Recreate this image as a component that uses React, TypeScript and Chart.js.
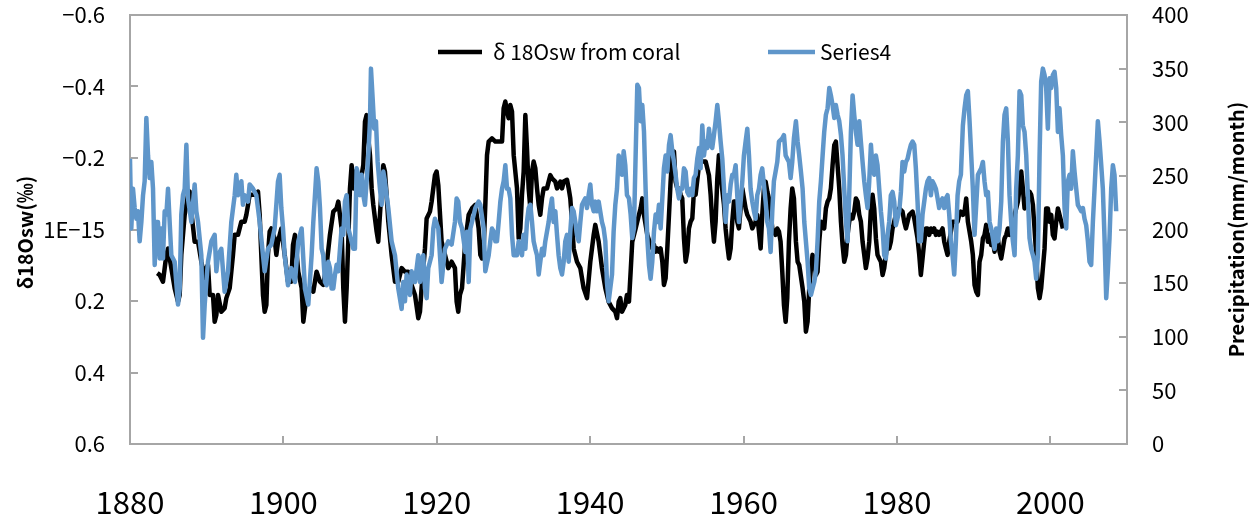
import React, { useEffect, useRef } from "react";
import { Chart, registerables } from "chart.js";

Chart.register(...registerables);

// [year, δ18Osw (‰)]
const coralSeries: [number, number][] = [
  [1883.56, 0.122], [1883.87, 0.127], [1884.30, 0.146], [1884.74, 0.071], [1884.96, 0.053], [1885.17, 0.081],
  [1885.39, 0.108], [1885.82, 0.164], [1886.26, 0.202], [1886.48, 0.183], [1886.69, 0.071], [1887.13, -0.041],
  [1887.56, -0.097], [1887.78, -0.106], [1888.00, -0.050], [1888.43, 0.034], [1888.87, 0.034], [1889.30, 0.090],
  [1889.74, 0.136], [1889.95, 0.108], [1890.17, 0.099], [1890.39, 0.183], [1890.82, 0.183], [1891.04, 0.258],
  [1891.26, 0.239], [1891.48, 0.183], [1891.91, 0.230], [1892.34, 0.220], [1892.56, 0.192], [1893.00, 0.164],
  [1893.43, 0.071], [1893.65, 0.015], [1894.08, 0.015], [1894.52, -0.022], [1894.95, -0.022], [1895.17, -0.041],
  [1895.39, -0.069], [1895.60, -0.097], [1896.25, -0.097], [1896.69, -0.106], [1896.91, -0.041], [1897.12, 0.071],
  [1897.34, 0.183], [1897.56, 0.230], [1897.78, 0.211], [1897.99, 0.071], [1898.21, 0.006], [1898.43, -0.003],
  [1898.86, 0.025], [1899.08, 0.071], [1899.30, 0.034], [1899.73, -0.003], [1900.17, 0.071], [1900.60, 0.146],
  [1901.04, 0.146], [1901.25, 0.043],
  [1901.51, 0.015], [1901.94, 0.118], [1902.38, 0.164], [1902.60, 0.258], [1903.03, 0.183], [1903.47, 0.164],
  [1903.90, 0.174], [1904.33, 0.118], [1904.77, 0.146], [1905.20, 0.155], [1905.64, 0.099], [1906.07, 0.015],
  [1906.51, -0.050], [1906.94, -0.059], [1907.16, -0.078], [1907.59, -0.003], [1907.81, 0.164], [1908.03, 0.258],
  [1908.25, 0.164], [1908.46, 0.034], [1908.68, -0.115], [1908.90, -0.180], [1909.12, -0.115], [1909.33, -0.162],
  [1909.55, -0.134], [1909.77, -0.152], [1909.98, -0.106], [1910.20, -0.152], [1910.42, -0.180], [1910.64, -0.302],
  [1910.85, -0.320], [1911.07, -0.255], [1911.29, -0.208], [1911.51, -0.115], [1911.72, -0.069], [1912.16, 0.006],
  [1912.37, 0.034], [1912.59, -0.041], [1912.81, -0.115], [1913.03, -0.180], [1913.24, -0.162], [1913.46, -0.097],
  [1913.68, -0.022], [1914.11, 0.071], [1914.55, 0.146], [1914.98, 0.146], [1915.42, 0.108], [1915.85, 0.118],
  [1916.29, 0.118], [1916.72, 0.155], [1917.16, 0.183], [1917.59, 0.248], [1917.81, 0.230], [1918.02, 0.164],
  [1918.46, 0.053], [1918.68, -0.031], [1919.11, -0.050], [1919.33, -0.078], [1919.76, -0.152], [1919.98, -0.162],
  [1920.20, -0.124], [1920.63, 0.034], [1921.07, 0.071], [1921.50, 0.108], [1921.94, 0.090], [1922.37, 0.108],
  [1922.59, 0.202], [1922.80, 0.230], [1923.02, 0.183],
  [1923.29, 0.164], [1923.72, 0.034], [1924.16, -0.041], [1924.59, -0.059], [1925.03, -0.069], [1925.46, -0.003],
  [1925.68, 0.071], [1925.90, 0.081], [1926.11, 0.053], [1926.33, -0.069], [1926.55, -0.208], [1926.77, -0.246],
  [1927.20, -0.255], [1927.64, -0.246], [1928.51, -0.246], [1928.72, -0.339], [1928.94, -0.358], [1929.16, -0.330],
  [1929.37, -0.311], [1929.59, -0.348], [1929.81, -0.330], [1930.03, -0.208], [1930.46, -0.115], [1930.68, 0.025],
  [1930.90, -0.003], [1931.11, -0.097], [1931.33, -0.162], [1931.55, -0.320], [1931.76, -0.227], [1931.98, -0.115],
  [1932.20, -0.059], [1932.42, -0.162], [1932.63, -0.190], [1932.85, -0.171], [1933.07, -0.115], [1933.29, -0.069],
  [1933.50, -0.041], [1933.72, -0.087], [1933.94, -0.115], [1934.37, -0.115], [1934.59, -0.134], [1934.81, -0.152],
  [1935.02, -0.143], [1935.46, -0.134], [1935.68, -0.115], [1935.89, -0.124], [1936.11, -0.134], [1936.33, -0.115],
  [1936.55, -0.134], [1936.98, -0.139], [1937.20, -0.115], [1937.41, -0.087], [1937.63, -0.022], [1937.85, 0.053],
  [1938.28, 0.090], [1938.72, 0.108], [1939.15, 0.164], [1939.59, 0.192], [1940.02, 0.090], [1940.46, 0.015],
  [1940.67, -0.013], [1941.11, 0.034], [1941.54, 0.108], [1941.98, 0.164], [1942.41, 0.202], [1942.85, 0.220],
  [1943.28, 0.230], [1943.50, 0.248], [1943.72, 0.202], [1943.93, 0.192], [1944.15, 0.230], [1944.58, 0.211],
  [1944.80, 0.183],
  [1945.06, 0.202], [1945.28, 0.118], [1945.49, 0.034], [1945.93, -0.003], [1946.36, -0.041], [1946.58, -0.059],
  [1946.80, -0.087], [1947.02, -0.041], [1947.45, 0.015], [1947.88, 0.043], [1948.10, 0.053], [1948.32, 0.043],
  [1948.54, 0.062], [1948.75, 0.053], [1948.97, 0.062], [1949.19, 0.053], [1949.41, 0.090], [1949.62, 0.155],
  [1949.84, 0.136], [1950.06, 0.053], [1950.28, -0.041], [1950.49, -0.134], [1950.71, -0.208], [1950.93, -0.218],
  [1951.14, -0.134], [1951.36, -0.115], [1951.58, -0.115], [1951.80, -0.097], [1952.01, -0.087], [1952.23, 0.025],
  [1952.45, 0.090], [1952.67, 0.062], [1952.88, -0.003], [1953.10, -0.022], [1953.32, -0.031], [1953.53, -0.106],
  [1953.75, -0.097], [1954.19, -0.180], [1954.62, -0.190], [1955.06, -0.190], [1955.49, -0.152], [1955.71, -0.097],
  [1955.92, -0.022], [1956.14, 0.034], [1956.36, -0.022], [1956.58, -0.143], [1956.79, -0.208], [1957.01, -0.152],
  [1957.45, -0.069], [1957.66, -0.003], [1957.88, 0.043], [1958.10, 0.081], [1958.32, 0.053], [1958.53, -0.022],
  [1958.75, -0.078], [1958.97, -0.078], [1959.18, -0.022], [1959.40, -0.003], [1959.84, -0.115], [1960.27, -0.059],
  [1960.49, -0.041], [1960.92, -0.022], [1961.14, -0.003], [1961.57, -0.022], [1961.79, -0.041], [1962.23, 0.053],
  [1962.44, -0.041], [1962.66, -0.115], [1962.88, -0.134], [1963.10, -0.106], [1963.31, -0.087], [1963.53, -0.050],
  [1963.75, -0.003], [1964.18, 0.015], [1964.40, -0.003], [1964.62, 0.006], [1964.83, 0.034], [1965.05, 0.118],
  [1965.27, 0.211], [1965.49, 0.258], [1965.70, 0.192], [1965.92, 0.034], [1966.14, -0.059], [1966.35, -0.115],
  [1966.57, -0.087],
  [1966.83, 0.034], [1967.05, 0.090], [1967.26, 0.099], [1967.70, 0.164], [1967.92, 0.202], [1968.13, 0.286],
  [1968.35, 0.258], [1968.57, 0.164], [1968.79, 0.108], [1969.00, 0.071], [1969.22, 0.090], [1969.44, 0.127],
  [1969.65, 0.118], [1969.87, 0.034], [1970.09, -0.022], [1970.52, -0.003], [1970.74, -0.059], [1970.96, -0.078],
  [1971.18, -0.087], [1971.39, -0.115], [1971.61, -0.180], [1971.83, -0.236], [1972.04, -0.246], [1972.26, -0.180],
  [1972.48, -0.115], [1972.70, -0.022], [1972.91, 0.043], [1973.13, 0.090], [1973.35, 0.071], [1973.56, 0.015],
  [1973.78, -0.022], [1974.00, -0.041], [1974.22, -0.031], [1974.43, -0.050], [1974.65, -0.087], [1974.87, -0.078],
  [1975.09, -0.041], [1975.30, -0.022], [1975.52, 0.034], [1975.74, 0.071], [1975.95, 0.108], [1976.17, 0.081],
  [1976.39, 0.034], [1976.61, -0.059], [1976.82, -0.097], [1977.04, -0.059], [1977.26, 0.025], [1977.47, 0.071],
  [1977.69, 0.081], [1977.91, 0.090], [1978.13, 0.127], [1978.34, 0.108], [1978.56, 0.071], [1978.78, 0.034],
  [1978.99, 0.053], [1979.21, 0.034], [1979.43, -0.003], [1979.65, -0.022], [1979.86, -0.041], [1980.30, -0.059],
  [1980.73, -0.050], [1980.95, -0.022], [1981.17, -0.003], [1981.39, -0.022], [1981.60, -0.041], [1982.04, -0.050],
  [1982.26, -0.031], [1982.47, -0.003], [1982.69, 0.025], [1982.91, 0.071], [1983.12, 0.127], [1983.34, 0.081],
  [1983.56, 0.034], [1983.78, -0.003], [1983.99, -0.003], [1984.21, 0.015], [1984.43, -0.003], [1984.64, 0.006],
  [1984.86, -0.003], [1985.08, 0.015], [1985.30, 0.006], [1985.51, 0.015], [1985.95, -0.003], [1986.17, 0.034],
  [1986.38, 0.053], [1986.60, 0.071], [1986.82, 0.034], [1987.04, 0.006], [1987.25, -0.022], [1987.69, -0.022],
  [1987.91, -0.022], [1988.12, -0.041], [1988.34, -0.050],
  [1988.60, -0.041], [1988.82, -0.050], [1989.03, -0.087], [1989.25, -0.022], [1989.47, 0.006], [1989.69, 0.034],
  [1989.90, 0.071], [1990.12, 0.155], [1990.34, 0.174], [1990.56, 0.183], [1990.77, 0.090], [1990.99, 0.071],
  [1991.21, 0.025], [1991.42, 0.015], [1991.64, -0.013], [1991.86, 0.034], [1992.08, 0.015], [1992.29, 0.043],
  [1992.51, 0.034], [1992.73, 0.062], [1992.95, 0.034], [1993.16, 0.025], [1993.38, 0.062], [1993.60, 0.081],
  [1993.82, 0.053], [1994.03, 0.025], [1994.25, 0.015], [1994.47, -0.003], [1994.68, 0.015], [1994.90, 0.006],
  [1995.12, -0.031], [1995.34, -0.041], [1995.55, -0.059], [1995.77, -0.078], [1995.99, -0.115], [1996.21, -0.162],
  [1996.42, -0.115], [1996.64, -0.059], [1996.86, -0.078], [1997.07, -0.087], [1997.29, -0.106], [1997.51, -0.097],
  [1997.73, -0.069], [1997.94, -0.003], [1998.16, 0.071], [1998.38, 0.164], [1998.60, 0.192], [1998.81, 0.164],
  [1999.03, 0.108], [1999.25, 0.053], [1999.46, -0.059], [1999.68, -0.059], [1999.90, -0.022], [2000.12, -0.041],
  [2000.33, 0.015], [2000.55, 0.025], [2000.77, -0.022], [2000.99, -0.059], [2001.20, -0.041], [2001.42, -0.022],
  [2001.64, -0.003],
];

// [year, precipitation (mm/month)]
const precipSeries: [number, number][] = [
  [1880.00, 266], [1880.17, 201], [1880.39, 238], [1880.61, 220], [1880.83, 210], [1881.04, 217], [1881.26, 189],
  [1881.48, 207], [1881.70, 232], [1881.91, 245], [1882.13, 304], [1882.35, 269], [1882.56, 248], [1882.78, 263],
  [1883.00, 238], [1883.22, 167], [1883.43, 207], [1883.65, 207], [1883.87, 173], [1884.09, 201], [1884.30, 173],
  [1884.52, 217], [1884.74, 214], [1884.96, 238], [1885.17, 207], [1885.39, 176], [1885.82, 170], [1886.26, 130],
  [1886.48, 145], [1886.69, 214], [1886.91, 232], [1887.13, 238], [1887.35, 279], [1887.56, 229], [1888.00, 207],
  [1888.43, 242], [1888.65, 217], [1888.87, 207], [1889.30, 176], [1889.52, 99], [1889.74, 130], [1889.95, 151],
  [1890.17, 170], [1890.61, 189], [1891.04, 195], [1891.26, 161], [1891.48, 176], [1891.91, 182], [1892.34, 142],
  [1892.78, 161], [1893.21, 207], [1893.65, 232], [1893.86, 251], [1894.08, 232], [1894.52, 245], [1894.73, 223],
  [1894.95, 232], [1895.39, 226], [1895.60, 242], [1896.04, 238], [1896.47, 232], [1896.91, 207], [1897.34, 176],
  [1897.56, 161], [1897.99, 182], [1898.43, 186], [1898.86, 201], [1899.30, 245], [1899.51, 251], [1899.73, 220],
  [1899.95, 201], [1900.17, 176], [1900.60, 148], [1901.04, 164], [1901.25, 159],
  [1901.51, 151], [1901.94, 189], [1902.38, 201], [1902.81, 145], [1903.25, 130], [1903.68, 176], [1903.90, 207],
  [1904.12, 232], [1904.33, 257], [1904.55, 245], [1904.77, 220], [1904.99, 182], [1905.20, 176], [1905.42, 151],
  [1905.64, 148], [1905.86, 170], [1906.07, 164], [1906.29, 145], [1906.51, 145], [1906.73, 158], [1906.94, 167],
  [1907.16, 161], [1907.38, 182], [1907.59, 201], [1907.81, 195], [1908.03, 226], [1908.25, 232], [1908.46, 201],
  [1908.68, 195], [1909.12, 182], [1909.33, 182], [1909.55, 257], [1909.77, 251], [1909.98, 232], [1910.20, 251],
  [1910.42, 232], [1910.64, 223], [1910.85, 245], [1911.07, 269], [1911.29, 301], [1911.42, 350], [1911.64, 322],
  [1911.85, 294], [1912.07, 301], [1912.29, 263], [1912.59, 238], [1912.81, 223], [1913.03, 254], [1913.24, 245],
  [1913.46, 232], [1913.68, 220], [1914.11, 189], [1914.55, 176], [1914.98, 145], [1915.42, 126], [1915.63, 151],
  [1915.85, 133], [1916.07, 158], [1916.50, 139], [1916.72, 161], [1917.16, 151], [1917.59, 176], [1917.81, 151],
  [1918.02, 170], [1918.24, 176], [1918.46, 145], [1918.68, 136], [1918.89, 164], [1919.33, 176], [1919.55, 201],
  [1919.76, 210], [1920.20, 201], [1920.63, 151], [1921.07, 182], [1921.50, 189], [1921.94, 186], [1922.37, 207],
  [1922.59, 229], [1922.80, 226], [1923.02, 207],
  [1923.29, 201], [1923.72, 179], [1923.94, 198], [1924.16, 151], [1924.38, 201], [1924.59, 207], [1925.03, 220],
  [1925.46, 226], [1925.68, 223], [1926.11, 201], [1926.33, 161], [1926.77, 176], [1926.98, 189], [1927.20, 201],
  [1927.42, 198], [1927.64, 189], [1927.85, 189], [1928.07, 207], [1928.29, 226], [1928.51, 238], [1928.72, 245],
  [1928.94, 260], [1929.16, 238], [1929.37, 238], [1929.59, 229], [1929.81, 195], [1930.03, 176], [1930.46, 176],
  [1930.68, 189], [1931.11, 176], [1931.33, 195], [1931.55, 182], [1931.76, 207], [1931.98, 220], [1932.20, 223],
  [1932.42, 207], [1932.63, 189], [1932.85, 182], [1933.07, 176], [1933.29, 158], [1933.50, 170], [1933.72, 182],
  [1933.94, 176], [1934.15, 189], [1934.59, 207], [1934.81, 220], [1935.02, 229], [1935.24, 207], [1935.46, 217],
  [1935.68, 195], [1935.89, 176], [1936.11, 164], [1936.33, 158], [1936.55, 170], [1936.76, 189], [1936.98, 195],
  [1937.20, 170], [1937.41, 198], [1937.63, 220], [1937.85, 217], [1938.07, 207], [1938.28, 195], [1938.50, 189],
  [1938.72, 207], [1938.94, 223], [1939.15, 226], [1939.37, 229], [1939.59, 220], [1939.80, 232], [1940.02, 242],
  [1940.24, 223], [1940.46, 217], [1940.67, 226], [1940.89, 217], [1941.11, 226], [1941.54, 207], [1941.76, 201],
  [1941.98, 189], [1942.19, 151], [1942.41, 133], [1942.85, 158], [1943.06, 198], [1943.28, 223], [1943.50, 238],
  [1943.72, 269], [1943.93, 263], [1944.15, 251], [1944.37, 273], [1944.58, 260], [1944.80, 232],
  [1945.06, 229], [1945.28, 214], [1945.49, 192], [1945.71, 201], [1945.93, 269], [1946.15, 335], [1946.36, 332],
  [1946.58, 301], [1946.80, 316], [1947.02, 291], [1947.23, 238], [1947.45, 192], [1947.67, 167], [1947.88, 154],
  [1948.10, 170], [1948.32, 198], [1948.54, 214], [1948.75, 207], [1948.97, 223], [1949.19, 201], [1949.41, 229],
  [1949.62, 257], [1949.84, 269], [1950.06, 254], [1950.28, 279], [1950.49, 288], [1950.71, 273], [1950.93, 263],
  [1951.14, 251], [1951.36, 238], [1951.58, 229], [1951.80, 238], [1952.01, 238], [1952.23, 257], [1952.45, 254],
  [1952.67, 235], [1952.88, 232], [1953.10, 238], [1953.32, 232], [1953.53, 248], [1953.75, 251], [1953.97, 266],
  [1954.19, 276], [1954.40, 257], [1954.62, 297], [1954.84, 269], [1955.06, 282], [1955.27, 276], [1955.49, 294],
  [1955.71, 279], [1955.92, 276], [1956.14, 288], [1956.36, 301], [1956.58, 316], [1956.79, 301], [1957.01, 282],
  [1957.23, 266], [1957.45, 238], [1957.66, 207], [1957.88, 232], [1958.10, 226], [1958.32, 242], [1958.53, 251],
  [1958.75, 251], [1958.97, 260], [1959.18, 232], [1959.40, 207], [1959.84, 245], [1960.05, 269], [1960.27, 282],
  [1960.49, 294], [1960.71, 269], [1960.92, 238], [1961.14, 226], [1961.36, 217], [1961.57, 210], [1961.79, 232],
  [1962.01, 238], [1962.23, 251], [1962.44, 257], [1962.88, 226], [1963.10, 207], [1963.31, 201], [1963.53, 179],
  [1963.75, 217], [1963.96, 245], [1964.18, 254], [1964.40, 263], [1964.62, 282], [1965.05, 285], [1965.27, 288],
  [1965.49, 269], [1965.70, 266], [1965.92, 263], [1966.14, 248], [1966.35, 263], [1966.57, 285],
  [1966.83, 301], [1967.05, 282], [1967.26, 269], [1967.48, 254], [1967.70, 238], [1967.92, 207], [1968.13, 189],
  [1968.35, 170], [1968.57, 145], [1968.79, 139], [1969.00, 145], [1969.22, 151], [1969.44, 161], [1969.65, 189],
  [1969.87, 226], [1970.09, 245], [1970.31, 269], [1970.52, 291], [1970.74, 307], [1970.96, 313], [1971.18, 332],
  [1971.39, 325], [1971.61, 316], [1971.83, 304], [1972.04, 316], [1972.26, 307], [1972.48, 301], [1972.70, 288],
  [1972.91, 269], [1973.13, 238], [1973.35, 207], [1973.56, 189], [1973.78, 232], [1974.00, 291], [1974.22, 325],
  [1974.43, 307], [1974.65, 291], [1974.87, 279], [1975.09, 301], [1975.30, 282], [1975.52, 263], [1975.74, 245],
  [1975.95, 232], [1976.17, 220], [1976.39, 245], [1976.61, 279], [1976.82, 257], [1977.04, 251], [1977.26, 269],
  [1977.47, 260], [1977.69, 238], [1977.91, 217], [1978.13, 201], [1978.34, 176], [1978.56, 173], [1978.78, 195],
  [1978.99, 207], [1979.21, 232], [1979.43, 235], [1979.65, 226], [1979.86, 204], [1980.30, 217], [1980.52, 235],
  [1980.73, 263], [1980.95, 254], [1981.17, 263], [1981.39, 266], [1981.60, 273], [1981.82, 279], [1982.04, 282],
  [1982.26, 279], [1982.47, 257], [1982.69, 226], [1982.91, 189], [1983.12, 189], [1983.34, 214], [1983.56, 226],
  [1983.78, 238], [1983.99, 245], [1984.21, 248], [1984.43, 232], [1984.64, 245], [1984.86, 242], [1985.08, 238],
  [1985.30, 229], [1985.51, 220], [1985.73, 226], [1985.95, 229], [1986.17, 220], [1986.38, 229], [1986.60, 232],
  [1986.82, 214], [1987.04, 189], [1987.25, 176], [1987.47, 158], [1987.69, 189], [1987.91, 232], [1988.12, 245],
  [1988.34, 251],
  [1988.60, 297], [1988.82, 313], [1989.03, 325], [1989.25, 329], [1989.47, 301], [1989.69, 269], [1989.90, 238],
  [1990.12, 195], [1990.34, 223], [1990.56, 251], [1990.99, 257], [1991.21, 263], [1991.42, 245], [1991.64, 232],
  [1991.86, 235], [1992.08, 207], [1992.29, 201], [1992.51, 192], [1992.73, 182], [1992.95, 201], [1993.16, 189],
  [1993.38, 201], [1993.60, 226], [1993.82, 282], [1994.03, 307], [1994.25, 313], [1994.47, 282], [1994.68, 232],
  [1994.90, 207], [1995.12, 189], [1995.34, 176], [1995.55, 238], [1995.77, 269], [1995.99, 329], [1996.21, 325],
  [1996.42, 297], [1996.64, 291], [1996.86, 269], [1997.07, 232], [1997.29, 192], [1997.51, 182], [1997.73, 176],
  [1997.94, 170], [1998.16, 154], [1998.38, 176], [1998.60, 269], [1998.81, 338], [1999.03, 350], [1999.25, 344],
  [1999.46, 332], [1999.68, 294], [1999.90, 341], [2000.12, 332], [2000.33, 344], [2000.55, 347], [2000.77, 332],
  [2000.99, 291], [2001.20, 313], [2001.42, 288], [2001.64, 269], [2001.86, 220], [2002.07, 201], [2002.29, 245],
  [2002.51, 251], [2002.72, 238], [2002.94, 273], [2003.16, 254], [2003.38, 238], [2003.59, 223], [2003.81, 220],
  [2004.03, 217], [2004.25, 220], [2004.46, 210], [2004.68, 204], [2004.90, 189], [2005.11, 170], [2005.33, 167],
  [2005.55, 207], [2005.77, 238], [2005.98, 269], [2006.20, 301], [2006.42, 282], [2006.64, 260], [2006.85, 238],
  [2007.07, 192], [2007.29, 136], [2007.50, 161], [2007.72, 192], [2007.94, 238], [2008.16, 260], [2008.37, 251],
  [2008.59, 217],
];

const seriesNames = ["δ 18Osw from coral", "Series4"];
const xTicks = [1880, 1900, 1920, 1940, 1960, 1980, 2000];
const leftTicks = [-0.6, -0.4, -0.2, 0, 0.2, 0.4, 0.6];
const leftTickLabels = ["−0.6", "−0.4", "−0.2", "1E−15", "0.2", "0.4", "0.6"];
const rightTicks = [0, 50, 100, 150, 200, 250, 300, 350, 400];
const leftTitle = "δ18Osw(‰)";
const rightTitle = "Precipitation(mm/month)";

const FONT = "'Noto Sans CJK JP', 'Noto Sans', sans-serif";
const BLACK = "#000000";
const BLUE = "#5f96ca";
const FRAME = "#a6a6a6";
const LINE_W = 4.5;

const zeroPad = (s: any) => {
  s.paddingTop = 0;
  s.paddingBottom = 0;
  s.paddingLeft = 0;
  s.paddingRight = 0;
};

const decorPlugin = {
  id: "decor",
  beforeDatasetsDraw(chart: any) {
    const { ctx, chartArea: a, scales } = chart;
    ctx.save();
    ctx.strokeStyle = FRAME;
    ctx.lineWidth = 2;
    ctx.strokeRect(a.left, a.top, a.right - a.left, a.bottom - a.top);
    ctx.beginPath();
    const tk = 8;
    for (const v of xTicks) {
      const x = Math.round(scales.x.getPixelForValue(v));
      ctx.moveTo(x, a.bottom);
      ctx.lineTo(x, a.bottom - tk);
    }
    for (const v of leftTicks) {
      const y = Math.round(scales.y.getPixelForValue(v));
      ctx.moveTo(a.left, y);
      ctx.lineTo(a.left + tk, y);
    }
    for (const v of rightTicks) {
      const y = Math.round(scales.y2.getPixelForValue(v));
      ctx.moveTo(a.right, y);
      ctx.lineTo(a.right - tk, y);
    }
    ctx.stroke();
    ctx.restore();
  },
  afterDraw(chart: any) {
    const { ctx, chartArea: a } = chart;
    ctx.save();
    // legend
    const ly = 52;
    ctx.lineWidth = LINE_W;
    ctx.lineCap = "butt";
    ctx.strokeStyle = BLACK;
    ctx.beginPath();
    ctx.moveTo(438, ly);
    ctx.lineTo(482, ly);
    ctx.stroke();
    ctx.strokeStyle = BLUE;
    ctx.beginPath();
    ctx.moveTo(768, ly);
    ctx.lineTo(815, ly);
    ctx.stroke();
    ctx.fillStyle = "#000";
    ctx.font = `21px ${FONT}`;
    ctx.textBaseline = "middle";
    ctx.textAlign = "left";
    ctx.fillText(seriesNames[0], 493, ly);
    ctx.fillText(seriesNames[1], 820, ly);
    // axis titles
    ctx.font = `bold 20px ${FONT}`;
    ctx.textAlign = "center";
    ctx.save();
    ctx.translate(25, (a.top + a.bottom) / 2 + 3);
    ctx.rotate(-Math.PI / 2);
    ctx.fillText(leftTitle, 0, 0);
    ctx.restore();
    ctx.save();
    ctx.translate(1236, (a.top + a.bottom) / 2);
    ctx.rotate(-Math.PI / 2);
    ctx.fillText(rightTitle, 0, 0);
    ctx.restore();
    ctx.restore();
  },
};

export default function App() {
  const canvasRef = useRef<HTMLCanvasElement | null>(null);

  useEffect(() => {
    const canvas = canvasRef.current;
    if (!canvas) return;
    const chart = new Chart(canvas, {
      type: "line",
      data: {
        datasets: [
          {
            label: seriesNames[0],
            data: coralSeries.map(([x, y]) => ({ x, y })),
            borderColor: BLACK,
            borderWidth: LINE_W,
            pointRadius: 0,
            tension: 0,
            fill: false,
            yAxisID: "y",
            order: 2,
            borderJoinStyle: "round",
          },
          {
            label: seriesNames[1],
            data: precipSeries.map(([x, y]) => ({ x, y })),
            borderColor: BLUE,
            borderWidth: LINE_W,
            pointRadius: 0,
            tension: 0,
            fill: false,
            yAxisID: "y2",
            order: 1,
            borderJoinStyle: "round",
          },
        ],
      },
      options: {
        responsive: false,
        animation: false,
        layout: { padding: { top: 15, left: 0, right: 0, bottom: 0 } },
        plugins: { legend: { display: false }, tooltip: { enabled: false } },
        scales: {
          x: {
            type: "linear",
            min: 1880,
            max: 2010,
            grid: { display: false, drawTicks: false },
            border: { display: false },
            afterBuildTicks: (s: any) => {
              s.ticks = xTicks.map((v) => ({ value: v }));
            },
            afterFit: (s: any) => {
              s.height = 87;
              zeroPad(s);
            },
            ticks: {
              padding: 40,
              color: "#000",
              maxRotation: 0,
              autoSkip: false,
              font: { size: 31, family: FONT },
              callback: (v: any) => String(v),
            },
          },
          y: {
            type: "linear",
            position: "left",
            reverse: true,
            min: -0.6,
            max: 0.6,
            grid: { display: false, drawTicks: false },
            border: { display: false },
            afterBuildTicks: (s: any) => {
              s.ticks = leftTicks.map((v) => ({ value: v }));
            },
            afterFit: (s: any) => {
              s.width = 130;
              zeroPad(s);
            },
            ticks: {
              padding: 25,
              color: "#000",
              font: { size: 22, family: FONT },
              callback: (v: any) => {
                const i = leftTicks.findIndex((t) => Math.abs(t - v) < 1e-9);
                return i >= 0 ? leftTickLabels[i] : "";
              },
            },
          },
          y2: {
            type: "linear",
            position: "right",
            min: 0,
            max: 400,
            grid: { display: false, drawTicks: false },
            border: { display: false },
            afterBuildTicks: (s: any) => {
              s.ticks = rightTicks.map((v) => ({ value: v }));
            },
            afterFit: (s: any) => {
              s.width = 124;
              zeroPad(s);
            },
            ticks: {
              padding: 25,
              color: "#000",
              font: { size: 22, family: FONT },
              callback: (v: any) => String(v),
            },
          },
        },
      },
      plugins: [decorPlugin],
    });
    return () => chart.destroy();
  }, []);

  return (
    <div style={{ position: "absolute", left: 0, top: 0, width: 1251, height: 531, background: "#fff" }}>
      <canvas ref={canvasRef} width={1251} height={531} style={{ display: "block" }} />
    </div>
  );
}
